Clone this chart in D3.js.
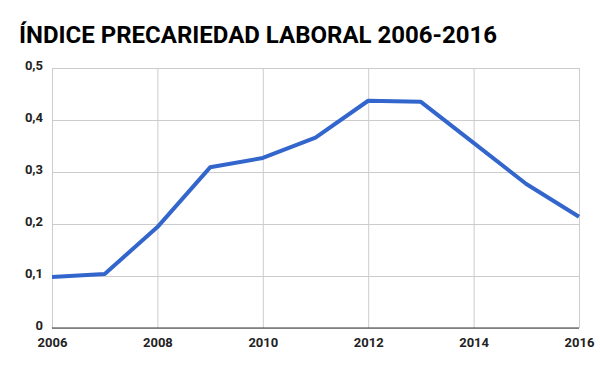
<!DOCTYPE html>
<html>
<head>
<meta charset="utf-8">
<script src="https://cdn.jsdelivr.net/npm/d3@7"></script>
<style>
  body { margin: 0; background: #fff; }
  text { font-family: Roboto, sans-serif; }
</style>
</head>
<body>
<div id="chart"></div>
<script>
var years = [2006, 2007, 2008, 2009, 2010, 2011, 2012, 2013, 2014, 2015, 2016];
var values = [0.098, 0.104, 0.194, 0.309, 0.327, 0.366, 0.437, 0.435, 0.356, 0.277, 0.214];
var yTicks = [0, 0.1, 0.2, 0.3, 0.4, 0.5];
var xTicks = [2006, 2008, 2010, 2012, 2014, 2016];
var title = "ÍNDICE PRECARIEDAD LABORAL 2006-2016";

var w = 600, h = 371
  , marginTop = 68, marginBottom = 43, marginLeft = 52, marginRight = 21
  , contentsWidth = w - marginLeft - marginRight, contentsHeight = h - marginTop - marginBottom;

var svg = d3.select("#chart")
  .append("svg")
  .attr("width", w)
  .attr("height", h);

svg.append("text")
  .attr("x", 19)
  .attr("y", 43)
  .style("font-size", "24px")
  .style("font-weight", "bold")
  .style("fill", "#000")
  .text(title);

var chartG = svg.append("g")
  .attr("transform", "translate(" + marginLeft + ", " + marginTop + ")");

var xScale = d3.scaleLinear().domain([2006, 2016]).range([0, contentsWidth]);
var yScale = d3.scaleLinear().domain([0, 0.5]).range([contentsHeight, 0]);
var fmt = function(d) { return d === 0 ? "0" : d3.format(".1f")(d).replace(".", ","); };

// gridlines
chartG.append("g")
  .attr("class", "gridline")
  .call(d3.axisLeft(yScale).tickValues(yTicks).tickSize(-contentsWidth).tickFormat(""))
  .call(function(g) {
    g.select(".domain").remove();
    g.selectAll("line").style("stroke", "#cccccc");
  });

chartG.append("g")
  .attr("class", "gridline")
  .attr("transform", "translate(0, " + contentsHeight + ")")
  .call(d3.axisBottom(xScale).tickValues(xTicks).tickSize(-contentsHeight).tickFormat(""))
  .call(function(g) {
    g.select(".domain").remove();
    g.selectAll("line").style("stroke", "#cccccc");
  });

// baseline
chartG.append("line")
  .attr("x1", 0).attr("x2", contentsWidth)
  .attr("y1", yScale(0)).attr("y2", yScale(0))
  .style("stroke", "#333333")
  .style("stroke-width", 1);

// y labels
var yAxis = chartG.append("g")
  .call(d3.axisLeft(yScale).tickValues(yTicks).tickSize(0).tickPadding(9).tickFormat(fmt));
yAxis.select(".domain").remove();
yAxis.selectAll("text")
  .attr("dy", "0.1em")
  .style("font-size", "13px")
  .style("font-weight", "bold")
  .style("fill", "#222");

// x labels
var xAxis = chartG.append("g")
  .attr("transform", "translate(0, " + contentsHeight + ")")
  .call(d3.axisBottom(xScale).tickValues(xTicks).tickSize(0).tickPadding(10).tickFormat(d3.format("d")));
xAxis.select(".domain").remove();
xAxis.selectAll("text")
  .style("font-size", "13px")
  .style("font-weight", "bold")
  .style("fill", "#222");

var line = d3.line()
  .x(function(d, i) { return xScale(years[i]); })
  .y(function(d) { return yScale(d); });

chartG.append("path")
  .datum(values)
  .attr("d", line)
  .style("fill", "none")
  .style("stroke", "#3366cc")
  .style("stroke-width", 4)
  .style("stroke-linejoin", "round");
</script>
</body>
</html>
